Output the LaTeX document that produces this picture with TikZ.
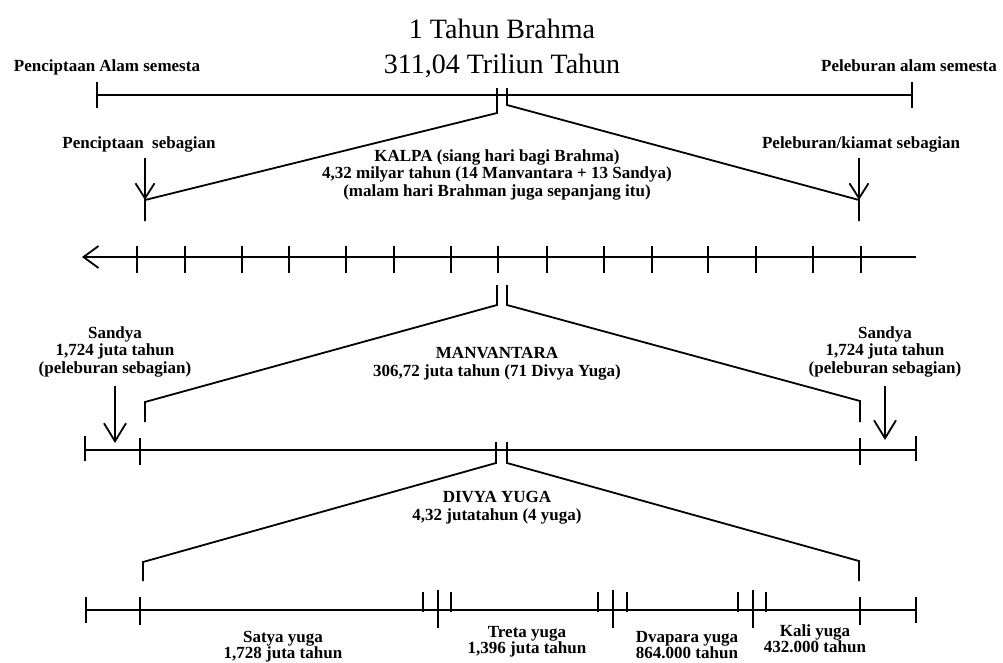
\documentclass[tikz,border=0pt]{standalone}
\usepackage{fontspec}
\setmainfont{Liberation Serif}
\usetikzlibrary{arrows.meta}

\begin{document}
\begin{tikzpicture}[x=1pt,y=-1pt,line width=1.8pt,
    ttl/.style={font=\fontsize{28}{35}\selectfont,align=center,inner sep=0pt,anchor=north},
    lbl/.style={font=\fontsize{17}{17.5}\selectfont\bfseries,align=center,inner sep=0pt,anchor=north},
    yugalbl/.style={lbl,font=\fontsize{17}{16}\selectfont\bfseries},
    barb/.style={-{Straight Barb[length=15pt,width=19pt]}},
    bigbarb/.style={-{Straight Barb[length=18pt,width=22pt]}}]
    \useasboundingbox (0,0) rectangle (1003,662);

    % 1 tahun Brahma
    \node[ttl] (title) at (502,18) {1 Tahun Brahma\\311,04 Triliun Tahun};
    \node[lbl] (awal) at (107,59) {Penciptaan Alam semesta};
    \node[lbl] (akhir) at (909,59) {Peleburan alam semesta};
    \coordinate (a1) at (97,95);
    \coordinate (a2) at (912,95);
    \draw (a1) -- (a2);
    \draw (97,82) -- (97,108);
    \draw (912,82) -- (912,108);

    % kalpa
    \coordinate (k1) at (145,200);
    \coordinate (k2) at (859,200);
    \draw (497,88) -- (497,113) -- (k1) -- (145,221);
    \draw (507,88) -- (507,105) -- (k2) -- (859,221);
    \node[lbl] (cipta) at (139,136) {Penciptaan\ \ sebagian};
    \node[lbl] (lebur) at (861,136) {Peleburan/kiamat sebagian};
    \draw[barb] ([yshift=-5pt]cipta.south -| k1) -- (k1);
    \draw[barb] ([yshift=-5pt]lebur.south -| k2) -- (k2);
    \node[lbl] (kalpa) at (497,148.5) {KALPA (siang hari bagi Brahma)\\4,32 milyar tahun (14 Manvantara + 13 Sandya)\\(malam hari Brahman juga sepanjang itu)};

    % garis kalpa
    \coordinate (b1) at (82,257);
    \coordinate (b2) at (916,257);
    \draw[{Straight Barb[length=15pt,width=22pt]}-] (b1) -- (b2);
    \foreach \x in {137,185,242,289,346,394,451,498,547,604,652,708,756,813,861}
      \draw (\x,246) -- (\x,273);

    % manvantara
    \coordinate (m1) at (145,402);
    \coordinate (m2) at (860,401);
    \draw (497,285) -- (497,305) -- (m1) -- (145,422);
    \draw (507,285) -- (507,305) -- (m2) -- (860,422);
    \node[lbl] (manv) at (497,346.5) {MANVANTARA\\306,72 juta tahun (71 Divya Yuga)};
    \node[lbl] (sandyaL) at (115,325.5) {Sandya\\1,724 juta tahun\\(peleburan sebagian)};
    \node[lbl] (sandyaR) at (885,325.5) {Sandya\\1,724 juta tahun\\(peleburan sebagian)};
    \coordinate (s1) at (115,443);
    \coordinate (s2) at (885,440);
    \draw[bigbarb] ([yshift=-8pt]sandyaL.south) -- (s1);
    \draw[bigbarb] ([yshift=-8pt]sandyaR.south) -- (s2);

    \coordinate (c1) at (85,450);
    \coordinate (c2) at (916,450);
    \draw (c1) -- (c2);
    \draw (85,436) -- (85,461);
    \draw (916,436) -- (916,461);
    \draw (140,438) -- (140,465);
    \draw (860,438) -- (860,465);

    % divya yuga
    \coordinate (d1) at (143,562);
    \coordinate (d2) at (859,561);
    \draw (496,442) -- (496,463) -- (d1) -- (143,581);
    \draw (507,442) -- (507,463) -- (d2) -- (859,581);
    \node[lbl] (divya) at (497,490.5) {DIVYA YUGA\\4,32 jutatahun (4 yuga)};

    % empat yuga
    \coordinate (y1) at (86,610);
    \coordinate (y2) at (916,610);
    \draw (y1) -- (y2);
    \draw (86,597) -- (86,623);
    \draw (916,597) -- (916,623);
    \draw (140,597) -- (140,625);
    \draw (860,597) -- (860,625);
    \foreach \x in {423,451,598,627,738,766}
      \draw (\x,592) -- (\x,612);
    \foreach \x in {438,613,753}
      \draw (\x,590) -- (\x,628);
    \node[yugalbl] (satya) at (283,630.5) {Satya yuga\\1,728 juta tahun};
    \node[yugalbl] (treta) at (527,625.5) {Treta yuga\\1,396 juta tahun};
    \node[yugalbl] (dvapara) at (687,630.5) {Dvapara yuga\\864.000 tahun};
    \node[yugalbl] (kali) at (815,623.5) {Kali yuga\\432.000 tahun};
\end{tikzpicture}
\end{document}
